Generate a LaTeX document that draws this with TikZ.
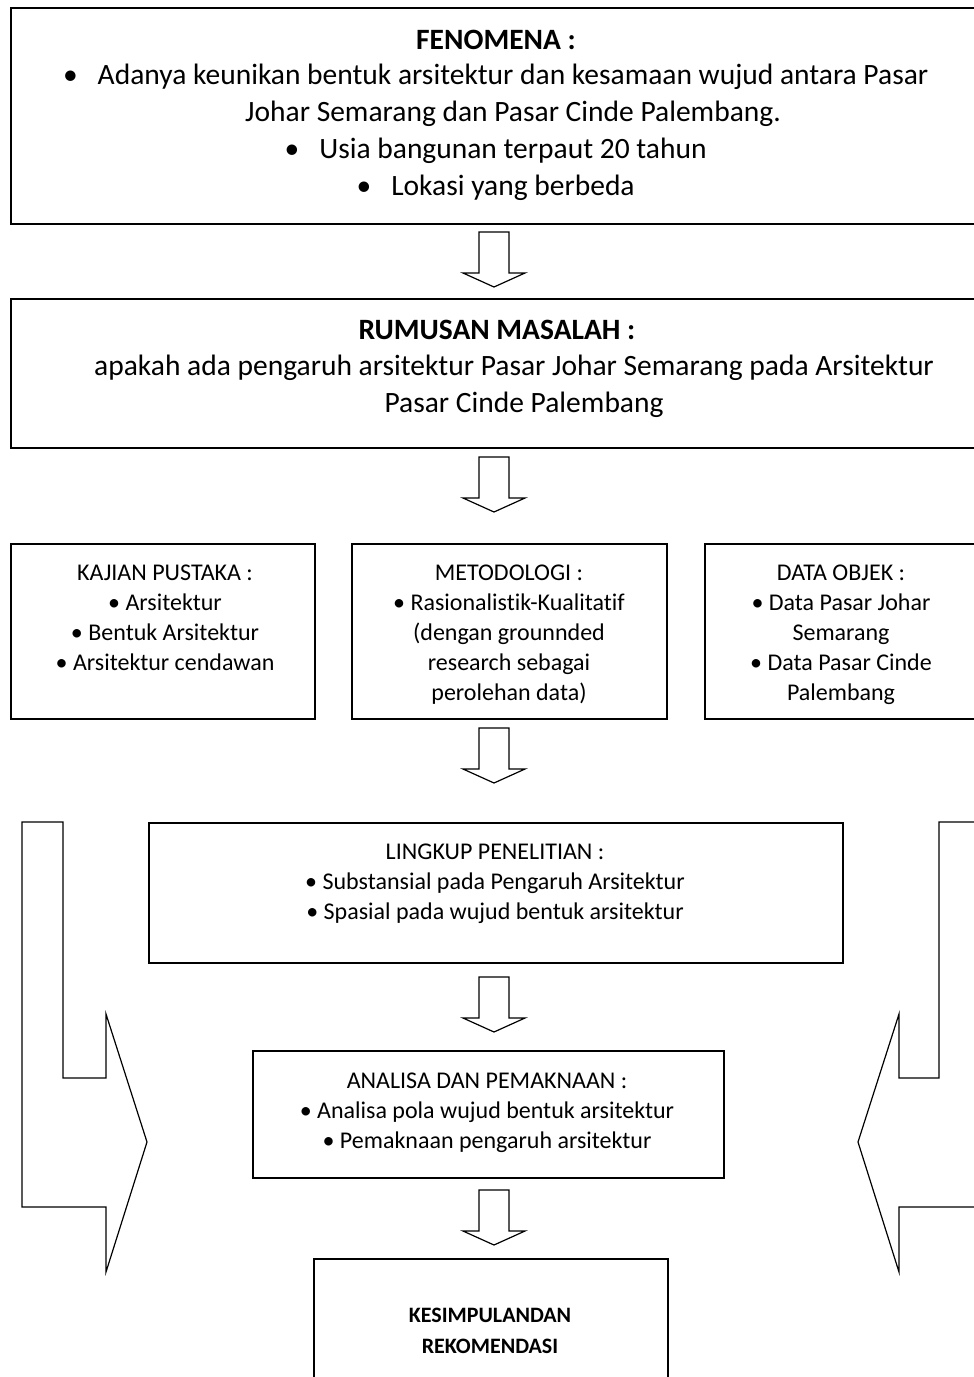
\documentclass[tikz,border=0pt]{standalone}
\usepackage{fontspec}
\setmainfont{Carlito}[Ligatures=NoCommon]

\begin{document}
\begin{tikzpicture}[
    x=1pt, y=-1pt,
    box/.style={
        draw=black,
        fill=white,
        line width=1.5pt,
        anchor=north west,
        inner sep=0pt
    },
    bigtxt/.style={anchor=base, inner sep=0pt, font=\fontsize{29.5}{36}\selectfont},
    bigbold/.style={anchor=base, inner sep=0pt, font=\fontsize{29.5}{36}\selectfont\bfseries},
    smalltxt/.style={anchor=north, inner sep=0pt, align=center, font=\fontsize{24}{30}\selectfont},
    blockarrow/.style={draw=black, fill=white, line width=1.2pt, line join=miter}
]
    \useasboundingbox (0,0) rectangle (974,1377);
    \clip (0,0) rectangle (974,1377);

    % Boxes
    \node[box, minimum width=975pt, minimum height=216pt] (fenomena) at (10,7) {};
    \node[box, minimum width=975pt, minimum height=149pt] (rumusan) at (10,298) {};
    \node[box, minimum width=304pt, minimum height=175pt] (kajian) at (10,543) {};
    \node[box, minimum width=315pt, minimum height=175pt] (metodologi) at (351,543) {};
    \node[box, minimum width=281pt, minimum height=175pt] (dataobjek) at (704,543) {};
    \node[box, minimum width=694pt, minimum height=140pt] (lingkup) at (148,822) {};
    \node[box, minimum width=471pt, minimum height=127pt] (analisa) at (252,1050) {};
    \node[box, minimum width=354pt, minimum height=150pt] (kesimpulan) at (313,1258) {};

    % Fenomena
    \node[bigbold] (fenhead) at (496,49) {FENOMENA :};
    \node[bigtxt] (fen1) at (513,84) {\llap{•\hspace{20pt}}Adanya keunikan bentuk arsitektur dan kesamaan wujud antara Pasar};
    \node[bigtxt] (fen2) at (513,121) {Johar Semarang dan Pasar Cinde Palembang.};
    \node[bigtxt] (fen3) at (513,158) {\llap{•\hspace{20pt}}Usia bangunan terpaut 20 tahun};
    \node[bigtxt] (fen4) at (513,195) {\llap{•\hspace{20pt}}Lokasi yang berbeda};

    % Rumusan masalah
    \node[bigbold] (rumhead) at (497,339) {RUMUSAN MASALAH :};
    \node[bigtxt] (rum1) at (514,375) {apakah ada pengaruh arsitektur Pasar Johar Semarang pada Arsitektur};
    \node[bigtxt] (rum2) at (524,412) {Pasar Cinde Palembang};

    % Three columns
    \node[smalltxt] (kajiantxt) at (165,565) {KAJIAN PUSTAKA :\\• Arsitektur\\• Bentuk Arsitektur\\• Arsitektur cendawan};
    \node[smalltxt] (metodetxt) at (509,565) {METODOLOGI :\\• Rasionalistik-Kualitatif\\(dengan grounnded\\research sebagai\\perolehan data)};
    \node[smalltxt] (datatxt) at (841,565) {DATA OBJEK :\\• Data Pasar Johar\\Semarang\\• Data Pasar Cinde\\Palembang};

    % Lingkup, analisa, kesimpulan
    \node[smalltxt] (lingkuptxt) at (495,844) {LINGKUP PENELITIAN :\\• Substansial pada Pengaruh Arsitektur\\• Spasial pada wujud bentuk arsitektur};
    \node[smalltxt] (analisatxt) at (487,1073) {ANALISA DAN PEMAKNAAN :\\• Analisa pola wujud bentuk arsitektur\\• Pemaknaan pengaruh arsitektur};
    \node[smalltxt, font=\fontsize{22}{31}\selectfont\bfseries] (kesimpulantxt) at (490,1308) {KESIMPULANDAN\\REKOMENDASI};

    % Down arrows
    \foreach \ya [count=\i] in {232,457,728,977,1190} {
        \coordinate (arr\i) at (494,\ya);
        \draw[blockarrow] (arr\i) ++(-15,0) -- ++(30,0) -- ++(0,41) -- ++(16,0)
            -- ++(-31,14) -- ++(-31,-14) -- ++(16,0) -- cycle;
    }

    % Side arrows
    \draw[blockarrow] (22,822) -- (63,822) -- (63,1078) -- (106,1078) -- (106,1014)
        -- (147,1142) -- (106,1272) -- (106,1207) -- (22,1207) -- cycle;
    \draw[blockarrow] (990,822) -- (939,822) -- (939,1078) -- (899,1078) -- (899,1014)
        -- (858,1142) -- (899,1272) -- (899,1207) -- (990,1207) -- cycle;
\end{tikzpicture}
\end{document}
